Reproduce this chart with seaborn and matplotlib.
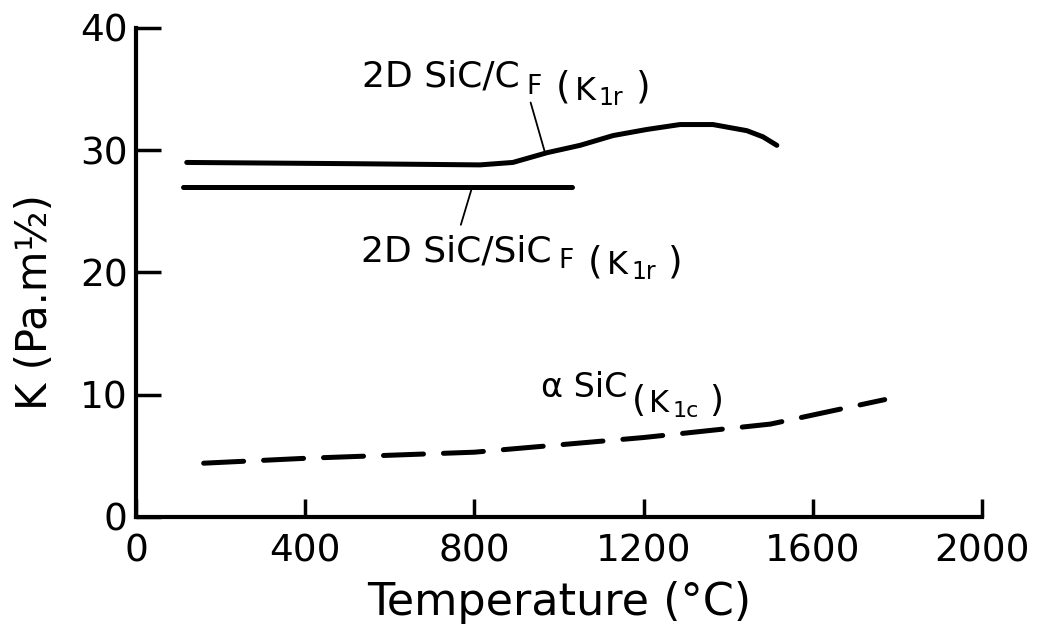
import matplotlib
matplotlib.use("Agg")
import matplotlib.pyplot as plt
from matplotlib.transforms import offset_copy
import seaborn as sns
import pandas as pd

# ---- data ----
sic_cf_T = [120, 506, 813, 891, 972, 1050, 1128, 1208, 1286, 1364, 1444, 1482, 1515]
sic_cf_K = [29.0, 28.9, 28.8, 29.0, 29.8, 30.4, 31.2, 31.7, 32.1, 32.1, 31.6, 31.1, 30.4]

sic_sicf_T = [110, 500, 1030]
sic_sicf_K = [27.0, 27.0, 27.0]

asic_T = [160, 400, 800, 1200, 1500, 1770]
asic_K = [4.4, 4.8, 5.3, 6.5, 7.6, 9.6]

x_ticks = [0, 400, 800, 1200, 1600, 2000]
y_ticks = [0, 10, 20, 30, 40]
x_label = "Temperature (°C)"
y_label = "K (Pa.m½)"
# label pieces: main text, then subscript parts
label_cf = ["2D SiC/C", "F", "(", "K", "1r", ")"]
label_sicf = ["2D SiC/SiC", "F", "(", "K", "1r", ")"]
label_asic = ["α SiC", "(", "K", "1c", ")"]

df_cf = pd.DataFrame({"T": sic_cf_T, "K": sic_cf_K})
df_sicf = pd.DataFrame({"T": sic_sicf_T, "K": sic_sicf_K})
df_asic = pd.DataFrame({"T": asic_T, "K": asic_K})

sns.set_style("ticks")
plt.rcParams["font.family"] = ["DejaVu Sans"]
plt.rcParams["text.color"] = "black"
plt.rcParams["axes.labelcolor"] = "black"

fig = plt.figure(figsize=(10.42, 6.37), dpi=100)
ax = fig.add_axes([0.1305, 0.1884, 0.8119, 0.7677])

sns.lineplot(data=df_cf, x="T", y="K", ax=ax, color="black", lw=3.6,
             solid_capstyle="round")
sns.lineplot(data=df_sicf, x="T", y="K", ax=ax, color="black", lw=3.6,
             solid_capstyle="round")
sns.lineplot(data=df_asic, x="T", y="K", ax=ax, color="black", lw=3.6,
             linestyle=(0, (8, 4)), dash_capstyle="round")

ax.set_xlim(0, 2000)
ax.set_ylim(0, 40)
ax.set_xticks(x_ticks)
ax.set_yticks(y_ticks)
ax.set_xticklabels([str(v) for v in x_ticks])
ax.set_yticklabels([str(v) for v in y_ticks])

for s in ["top", "right"]:
    ax.spines[s].set_visible(False)
for s in ["left", "bottom"]:
    ax.spines[s].set_linewidth(3)
    ax.spines[s].set_color("black")

ax.tick_params(axis="y", direction="in", length=18, width=2.5, pad=6,
               labelsize=27, colors="black")
ax.tick_params(axis="x", direction="in", length=13, width=2.5, pad=12,
               labelsize=27, colors="black")

ax.set_xlabel(x_label, fontsize=32, labelpad=8)
ax.set_ylabel(y_label, fontsize=30)
ax.yaxis.set_label_coords(-0.095, 0.44)

renderer = fig.canvas.get_renderer()


def chain_label(x, y, texts, sizes, gaps, drops):
    dx = 0.0
    for txt, size, gap, drop in zip(texts, sizes, gaps, drops):
        dx += gap
        tr = offset_copy(ax.transData, fig=fig, x=dx, y=-drop, units="dots")
        t = ax.text(x, y, txt, fontsize=size, ha="left", va="baseline",
                    transform=tr)
        bb = t.get_window_extent(renderer)
        dx += bb.width


chain_label(535, 35.2, label_cf, [26, 19, 27, 23, 17, 27],
            [0, 6, 14, 5, 3, 12], [0, 7, 11, 13, 18, 11])
ax.plot([933, 967], [33.9, 29.8], color="black", lw=1.3)
chain_label(533, 20.9, label_sicf, [26, 19, 27, 23, 17, 27],
            [0, 6, 14, 5, 3, 12], [0, 7, 11, 13, 18, 11])
ax.plot([794, 768], [26.9, 23.9], color="black", lw=1.3)
chain_label(958, 9.8, label_asic, [24, 26, 22, 16, 26],
            [0, 4, 3, 4, 10], [0, 14, 15, 20, 14])

fig.savefig("out.png", dpi=100)
